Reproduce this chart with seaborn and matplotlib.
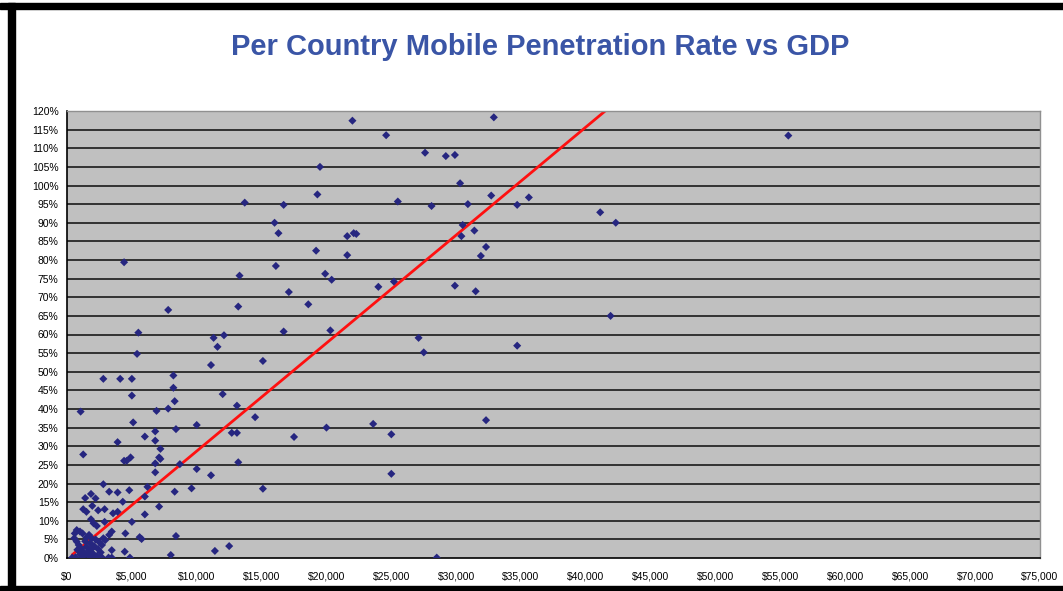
import matplotlib
matplotlib.use("Agg")
import matplotlib.pyplot as plt
import matplotlib.ticker as mticker
from matplotlib.patches import Rectangle
import seaborn as sns
import pandas as pd
import numpy as np

# GDP per capita in $ thousands, mobile penetration in %
gdp_k = [22.0, 32.9, 24.6, 55.6, 27.6, 29.2, 29.9, 19.5, 30.3, 19.3,
         16.7, 25.5, 28.1, 30.9, 32.7, 34.7, 35.6, 41.1, 42.3, 16.0,
         16.3, 21.6, 22.1, 22.3, 30.5, 30.4, 31.4, 19.2, 21.6, 32.3,
         31.9, 16.1, 19.9, 20.4, 17.1, 18.6, 24.0, 25.2, 29.9, 31.5,
         16.7, 20.3, 27.1, 27.5, 34.7, 41.9, 15.1, 14.5, 20.0, 23.6,
         25.0, 32.3, 17.5, 25.0, 28.5, 15.1,
         13.7, 4.4, 13.3, 7.8, 13.2, 5.5, 11.3, 12.1, 11.6,
         5.4, 11.1, 2.8, 4.1, 5.0, 8.2, 8.2, 5.0, 8.3, 12.0,
         7.8, 6.9, 1.05, 13.1, 5.1, 10.0, 8.4, 6.8, 12.7, 13.1,
         3.9, 6.0, 6.8, 7.2,
         1.25, 4.4, 4.6, 4.9, 7.1, 7.2, 6.8, 8.7, 13.2, 10.0, 6.8, 11.1,
         2.8, 3.25, 3.9, 4.8, 1.4, 1.85, 2.2, 1.95, 1.25, 1.5,
         2.4, 2.9, 3.55, 3.9, 4.3, 6.2, 6.0, 6.0, 7.1, 1.85,
         2.3, 2.9, 5.0, 3.25, 4.5, 5.6, 8.4, 0.56, 0.75, 2.8,
         3.45, 5.75, 8.0, 11.4, 12.5, 4.45, 4.85, 2.65, 9.6, 8.3,
         1.0, 1.2, 2.05, 3.45, 2.95, 1.9, 3.2, 3.45, 0.4, 0.65,
         0.9, 1.1, 1.3, 1.5, 1.6, 1.7, 1.8, 2.0, 2.1, 2.3,
         2.4, 2.5, 1.2, 1.4, 2.0, 1.0, 0.8, 1.9, 2.6, 2.2,
         1.5, 1.7, 2.7, 0.75, 0.6]
rate = [117.4, 118.3, 113.5, 113.4, 108.8, 107.9, 108.2, 105.0, 100.6, 97.6,
        94.8, 95.7, 94.5, 95.0, 97.3, 94.8, 96.8, 92.8, 90.0, 90.0,
        87.2, 86.4, 87.2, 87.0, 89.4, 86.4, 87.9, 82.5, 81.3, 83.5,
        81.1, 78.4, 76.3, 74.7, 71.4, 68.1, 72.8, 74.2, 73.1, 71.6,
        60.8, 61.1, 59.1, 55.2, 57.0, 65.0, 52.9, 37.8, 35.0, 36.0,
        33.2, 37.0, 32.5, 22.6, 0.1, 18.6,
        95.4, 79.4, 75.8, 66.6, 67.5, 60.5, 59.1, 59.8, 56.7,
        54.8, 51.8, 48.1, 48.1, 48.1, 49.0, 45.7, 43.6, 42.1, 44.0,
        40.1, 39.5, 39.3, 40.9, 36.4, 35.7, 34.6, 34.0, 33.6, 33.6,
        31.1, 32.6, 31.5, 29.3,
        27.8, 26.1, 26.1, 27.0, 27.0, 26.6, 25.4, 25.2, 25.7, 23.9, 23.0, 22.2,
        19.8, 17.8, 17.6, 18.2, 16.1, 17.2, 16.0, 14.0, 13.1, 12.4,
        12.8, 13.1, 12.0, 12.4, 15.1, 19.1, 16.5, 11.7, 13.8, 10.4,
        8.6, 9.7, 9.7, 6.2, 6.6, 5.6, 5.9, 5.3, 4.4, 5.3,
        2.1, 5.1, 0.8, 1.9, 3.2, 1.7, 0.1, 0.3, 18.7, 17.8,
        7.1, 6.6, 9.3, 7.1, 4.8, 5.3, 0.1, 0.1, 0.1, 0.2,
        3.5, 2.5, 1.5, 3.0, 0.8, 2.0, 4.0, 1.2, 3.2, 0.5,
        2.4, 4.2, 0.3, 4.5, 2.8, 1.0, 2.2, 0.2, 1.5, 5.0,
        5.5, 6.2, 3.5, 7.5, 6.6]

# linear trend line
trend_slope = 2.90
trend_intercept = -0.3
trend_x = [0.4, 45.0]

df = pd.DataFrame({"gdp": gdp_k, "rate": rate})
tdf = pd.DataFrame({"gdp": trend_x,
                    "rate": [trend_intercept + trend_slope * v for v in trend_x]})

sns.set_theme(style="white")
plt.rcParams['font.family'] = ['Liberation Sans', 'DejaVu Sans']

fig = plt.figure(figsize=(10.63, 5.91), dpi=100)
ax = fig.add_axes([67 / 1063, 33 / 591, 973 / 1063, 447 / 591])
ax.set_facecolor("#C0C0C0")

for yv in range(5, 120, 5):
    ax.axhline(yv, color="#1a1a1a", lw=1.2, zorder=1)

sns.lineplot(data=tdf, x="gdp", y="rate", color="#FF1010", lw=2, ax=ax, zorder=2)
sns.scatterplot(data=df, x="gdp", y="rate", marker="D", s=17, color="#262680",
                edgecolor="none", ax=ax, zorder=3)

ax.set_xlim(0, 75)
ax.set_ylim(0, 120)
ax.set_xticks(np.arange(0, 76, 5))
ax.set_yticks(np.arange(0, 121, 5))
ax.xaxis.set_major_formatter(mticker.FuncFormatter(lambda v, p: "${:,.0f}".format(v * 1000)))
ax.yaxis.set_major_formatter(mticker.FuncFormatter(lambda v, p: "{:.0f}%".format(v)))
ax.tick_params(axis="both", direction="out", length=4, width=1, color="black",
               labelsize=7.5, labelcolor="black", pad=2)
ax.tick_params(axis="x", pad=6)
ax.set_xlabel("")
ax.set_ylabel("")
for side in ["left", "bottom"]:
    ax.spines[side].set_color("black")
    ax.spines[side].set_linewidth(1.2)
for side in ["top", "right"]:
    ax.spines[side].set_color("#909090")
    ax.spines[side].set_linewidth(1.0)

fig.text(0.508, 1 - 47 / 591, "Per Country Mobile Penetration Rate vs GDP",
         ha="center", va="center", fontsize=21, fontweight="bold", color="#3A55A6")

# black frame of the screenshot
fig.patches.append(Rectangle((0, 1 - 9 / 591), 1, 6 / 591, transform=fig.transFigure,
                             color="black", zorder=10))
fig.patches.append(Rectangle((8 / 1063, 0), 7 / 1063, 1 - 3 / 591, transform=fig.transFigure,
                             color="black", zorder=10))
fig.patches.append(Rectangle((0, 0), 1, 5 / 591, transform=fig.transFigure,
                             color="black", zorder=10))

fig.savefig("out.png", dpi=100)
